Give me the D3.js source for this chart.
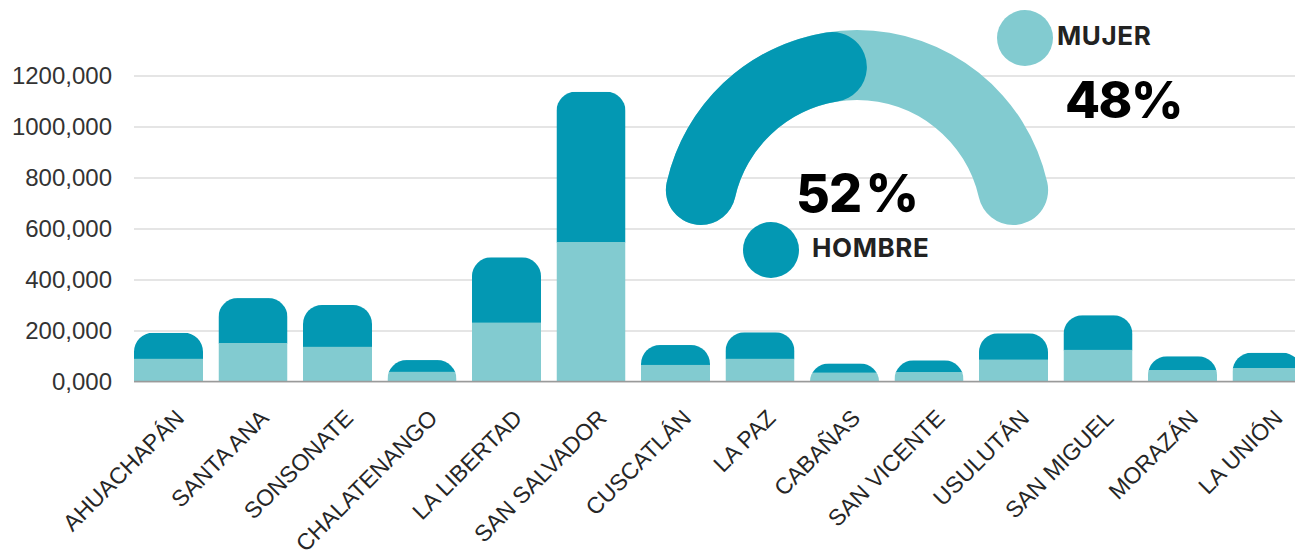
<!DOCTYPE html>
<html>
<head>
<meta charset="utf-8">
<script src="https://cdn.jsdelivr.net/npm/d3@7"></script>
<style>
  body { margin: 0; background: #fff; }
  svg { display: block; }
</style>
</head>
<body>
<div id="chart"></div>
<script>
// departamentos y poblacion
const departamentos = ["AHUACHAPÁN", "SANTA ANA", "SONSONATE", "CHALATENANGO", "LA LIBERTAD",
    "SAN SALVADOR", "CUSCATLÁN", "LA PAZ", "CABAÑAS", "SAN VICENTE", "USULUTÁN",
    "SAN MIGUEL", "MORAZÁN", "LA UNIÓN"];
const mujeres = [89000, 151000, 136000, 38000, 231000, 547000, 65000, 89000, 35000, 37000, 86000, 124000, 45000, 53000];
const hombres = [102000, 176000, 164000, 46000, 256000, 589000, 78000, 104000, 36000, 46000, 103000, 136000, 54000, 60000];
const yTicks = [0, 200000, 400000, 600000, 800000, 1000000, 1200000];
const yTickLabels = ["0,000", "200,000", "400,000", "600,000", "800,000", "1000,000", "1200,000"];
const generos = ["HOMBRE", "MUJER"];
const porcentajes = [52, 48];
const porcentajeLabels = ["52 %", "48%"];

const W = 1295, H = 552;
const colorHombre = "#0398b3", colorMujer = "#82cbd0";

const svg = d3.select("#chart").append("svg")
    .attr("width", W)
    .attr("height", H);

const x = d3.scaleBand()
    .domain(departamentos)
    .range([134, 1301.5])
    .paddingInner(0.1834)
    .paddingOuter(0);

const y = d3.scaleLinear()
    .domain([0, 1200000])
    .range([381.5, 75.5]);

// grid + y labels
const yAxis = d3.axisLeft(y)
    .tickValues(yTicks)
    .tickFormat((d, i) => yTickLabels[i])
    .tickSize(-(W - 134))
    .tickPadding(22);

const gy = svg.append("g")
    .attr("transform", "translate(134,0)")
    .call(yAxis);
gy.select(".domain").remove();
gy.selectAll("line").attr("stroke", "#dcdcdc").attr("stroke-width", 1.5);
gy.selectAll("text")
    .attr("font-family", "'Liberation Sans', Arial, sans-serif")
    .attr("font-size", 24)
    .attr("fill", "#333");

// rounded top shape
function roundedTop(x0, y0, w, h, r) {
    const rx = Math.min(r, w / 2), ry = Math.min(r, h);
    return "M" + x0 + "," + (y0 + h) +
        "V" + (y0 + ry) +
        "A" + rx + "," + ry + " 0 0 1 " + (x0 + rx) + "," + y0 +
        "H" + (x0 + w - rx) +
        "A" + rx + "," + ry + " 0 0 1 " + (x0 + w) + "," + (y0 + ry) +
        "V" + (y0 + h) + "Z";
}

const datos = departamentos.map((d, i) => ({dep: d, m: mujeres[i], h: hombres[i], i: i}));

const defs = svg.append("defs");
defs.selectAll("clipPath")
    .data(datos)
    .enter().append("clipPath")
    .attr("id", d => "clip" + d.i)
    .append("path")
    .attr("d", d => {
        const top = y(d.m + d.h);
        return roundedTop(x(d.dep), top, x.bandwidth(), y(0) - top, 19);
    });

const bar = svg.selectAll(".bar")
    .data(datos)
    .enter().append("g")
    .attr("class", "bar")
    .attr("clip-path", d => "url(#clip" + d.i + ")");

bar.append("rect")
    .attr("x", d => x(d.dep))
    .attr("y", d => y(d.m + d.h))
    .attr("width", x.bandwidth())
    .attr("height", d => y(d.m) - y(d.m + d.h) + 0.5)
    .attr("fill", colorHombre);

bar.append("rect")
    .attr("x", d => x(d.dep))
    .attr("y", d => y(d.m))
    .attr("width", x.bandwidth())
    .attr("height", d => y(0) - y(d.m))
    .attr("fill", colorMujer);

// baseline
svg.append("line")
    .attr("x1", 134).attr("x2", W)
    .attr("y1", y(0)).attr("y2", y(0))
    .attr("stroke", "#9a9a9a")
    .attr("stroke-width", 1.5);

// x labels
const xAxis = d3.axisBottom(x).tickSize(0).tickPadding(0);
const gx = svg.append("g")
    .attr("transform", "translate(0," + y(0) + ")")
    .call(xAxis);
gx.select(".domain").remove();
gx.selectAll("text")
    .attr("font-family", "'Liberation Sans', Arial, sans-serif")
    .attr("font-size", 23)
    .attr("fill", "#262626")
    .attr("text-anchor", "end")
    .attr("dy", 0)
    .attr("y", 0)
    .attr("transform", "translate(17,38) rotate(-45)");

// semi donut
const cx = 857, cy = 225;
const ang = d3.scaleLinear().domain([0, 100]).range([-Math.PI / 2, Math.PI / 2]);
const arc = d3.arc().innerRadius(125).outerRadius(195).cornerRadius(35);
const donut = svg.append("g").attr("transform", "translate(" + cx + "," + cy + ")");
donut.append("path")
    .attr("d", arc({startAngle: ang(0), endAngle: ang(100)}))
    .attr("fill", colorMujer);
donut.append("path")
    .attr("d", arc({startAngle: ang(0), endAngle: ang(porcentajes[0])}))
    .attr("fill", colorHombre);

const bold = "Inter, 'Noto Sans', sans-serif";
svg.append("text")
    .attr("x", 857).attr("y", 212)
    .attr("text-anchor", "middle")
    .attr("font-family", bold).attr("font-weight", 800)
    .attr("font-size", 52).attr("letter-spacing", -1)
    .attr("word-spacing", -6)
    .attr("fill", "#000")
    .text(porcentajeLabels[0]);
svg.append("text")
    .attr("x", 1065).attr("y", 118)
    .attr("font-family", bold).attr("font-weight", 800)
    .attr("font-size", 51).attr("letter-spacing", -1.5)
    .attr("fill", "#000")
    .text(porcentajeLabels[1]);

// legend
const leyenda = [
    {g: generos[0], c: colorHombre, cx: 771, cy: 250, tx: 812, ty: 257},
    {g: generos[1], c: colorMujer, cx: 1025, cy: 38, tx: 1057, ty: 45}
];
leyenda.forEach(function (l) {
    svg.append("circle").attr("cx", l.cx).attr("cy", l.cy).attr("r", 28).attr("fill", l.c);
    svg.append("text")
        .attr("x", l.tx).attr("y", l.ty)
        .attr("font-family", bold).attr("font-weight", 700)
        .attr("font-size", 26).attr("letter-spacing", 0.6)
        .attr("fill", "#222")
        .text(l.g);
});
</script>
</body>
</html>
